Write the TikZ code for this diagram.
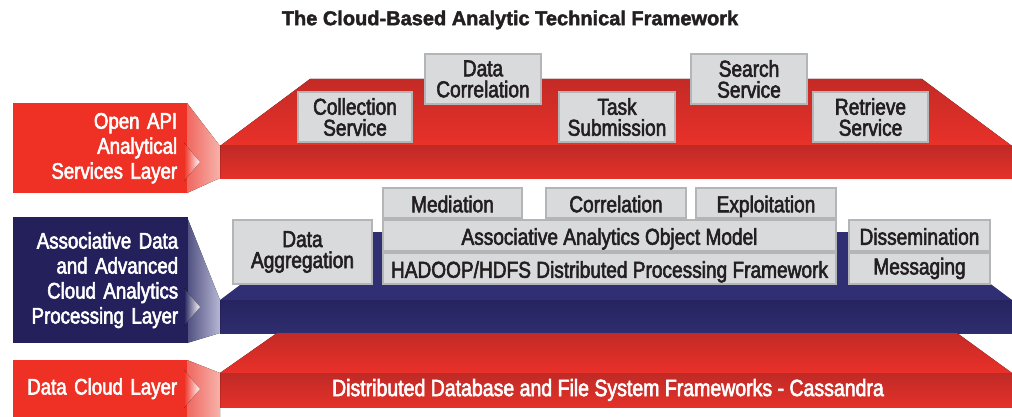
\documentclass[tikz,border=0pt]{standalone}
\usepackage{fontspec}
\newfontfamily\cf[FakeStretch=0.83,FakeBold=2.5]{Liberation Sans}
\newfontfamily\tf[FakeBold=2]{Liberation Sans Bold}
\definecolor{lblred}{RGB}{238,49,36}
\definecolor{lblnavy}{RGB}{35,32,92}
\definecolor{redtopA}{RGB}{196,42,38}
\definecolor{redtopB}{RGB}{233,49,41}
\definecolor{redfrA}{RGB}{192,42,38}
\definecolor{redfrB}{RGB}{228,49,41}
\definecolor{navytop}{RGB}{48,47,116}
\definecolor{navyfrA}{RGB}{38,35,96}
\definecolor{navyfrB}{RGB}{46,45,110}
\definecolor{pinkL}{RGB}{240,104,96}
\definecolor{pinkR}{RGB}{247,178,170}
\definecolor{lavL}{RGB}{80,80,128}
\definecolor{lavR}{RGB}{182,182,212}
\definecolor{boxfill}{RGB}{217,218,220}
\definecolor{boxline}{RGB}{180,181,183}
\definecolor{txtdark}{RGB}{35,31,32}
\tikzset{
  gbox/.style={draw=boxline, line width=2pt, fill=boxfill, inner sep=0pt,
    text=txtdark, align=center, font=\cf\fontsize{23}{21}\selectfont},
  single/.style={text height=20pt, text depth=1.5pt},
  lbl/.style={inner xsep=10pt, inner ysep=0pt, align=right, text=white,
    anchor=north west, font=\cf\fontsize{22.5}{25}\selectfont},
}
\begin{document}
\begin{tikzpicture}[x=1pt,y=-1pt]
\useasboundingbox (0,0) rectangle (1012,417);
% title
\node[font=\tf\fontsize{20}{20}\selectfont, text=txtdark] (title) at (510,20) {The Cloud-Based Analytic Technical Framework};

% ---------- top slab (red)
\fill[top color=redtopA, bottom color=redtopB] (220,146) -- (310,79) -- (922,79) -- (1012,146) -- cycle;
\fill[top color=redfrA, bottom color=redfrB] (220,146) rectangle (1012,178);
% ---------- middle slab (navy)
\fill[navytop] (220,300) -- (311,232) -- (921,232) -- (1012,300) -- cycle;
\fill[top color=navyfrA, bottom color=navyfrB] (220,300) rectangle (1012,333);
% ---------- bottom slab (red)
\fill[top color=redtopA, bottom color=redtopB] (220,373) -- (277,333) -- (957,333) -- (1012,373) -- cycle;
\fill[top color=redfrA, bottom color=redfrB] (220,373) rectangle (1012,407);
\node[text=white, font=\cf\fontsize{23.5}{21}\selectfont] (dcl) at (608,390) {Distributed Database and File System Frameworks - Cassandra};

% ---------- labels
\fill[left color=pinkL, right color=pinkR] (187,103) -- (220,146) -- (220,178) -- (187,193) -- cycle;
\fill[left color=lavL, right color=lavR] (187,217) -- (220,300) -- (220,333) -- (187,343) -- cycle;
\fill[left color=pinkL, right color=pinkR] (187,360) -- (220,373) -- (220,417) -- (187,417) -- cycle;

\node[lbl, fill=lblred, minimum width=174pt, minimum height=90pt, text width=154pt] (l1) at (13,103) {Open API\hspace{6pt}\\Analytical\\Services Layer};
\node[lbl, fill=lblnavy, minimum width=175pt, minimum height=126pt, text width=155pt] (l2) at (13,217) {Associative Data\\and Advanced\\Cloud Analytics\\Processing Layer};
\node[lbl, fill=lblred, minimum width=174pt, minimum height=57pt, text width=154pt] (l3) at (13,360) {Data Cloud Layer};

\fill[left color=lblred, right color=white] (184,143) -- (200,162) -- (184,181) -- cycle;
\fill[left color=lblnavy, right color=white] (184,288) -- (200,307) -- (184,326) -- cycle;
\fill[left color=lblred, right color=white] (184,370) -- (200,389) -- (184,408) -- cycle;

% ---------- top boxes
\node[gbox, minimum width=114pt, minimum height=50pt] (coll) at (355,117) {Collection\\Service};
\node[gbox, minimum width=116pt, minimum height=50pt] (dcorr) at (483,79) {Data\\Correlation};
\node[gbox, minimum width=116pt, minimum height=50pt] (task) at (617,117) {Task\\Submission};
\node[gbox, minimum width=116pt, minimum height=50pt] (search) at (749,79) {Search\\Service};
\node[gbox, minimum width=115pt, minimum height=50pt] (retr) at (870.5,117) {Retrieve\\Service};

% ---------- middle boxes
\node[gbox, minimum width=139pt, minimum height=64pt] (agg) at (302.5,252) {Data\\Aggregation};
\node[gbox, single, minimum width=453pt, minimum height=31pt] (aaom) at (609.5,235.5) {Associative Analytics Object Model};
\node[gbox, single, minimum width=453pt, minimum height=31pt] (hadoop) at (609.5,268.5) {HADOOP/HDFS Distributed Processing Framework};
\node[gbox, single, minimum width=139pt, minimum height=30pt] (med) at (452.5,203) {Mediation};
\node[gbox, single, minimum width=140pt, minimum height=30pt] (corr) at (616,203) {Correlation};
\node[gbox, single, minimum width=140pt, minimum height=30pt] (expl) at (766,203) {Exploitation};
\node[gbox, single, minimum width=141pt, minimum height=31pt] (diss) at (919.5,235.5) {Dissemination};
\node[gbox, minimum width=141pt, minimum height=31pt] (msg) at (919.5,268.5) {Messaging};
\end{tikzpicture}
\end{document}
